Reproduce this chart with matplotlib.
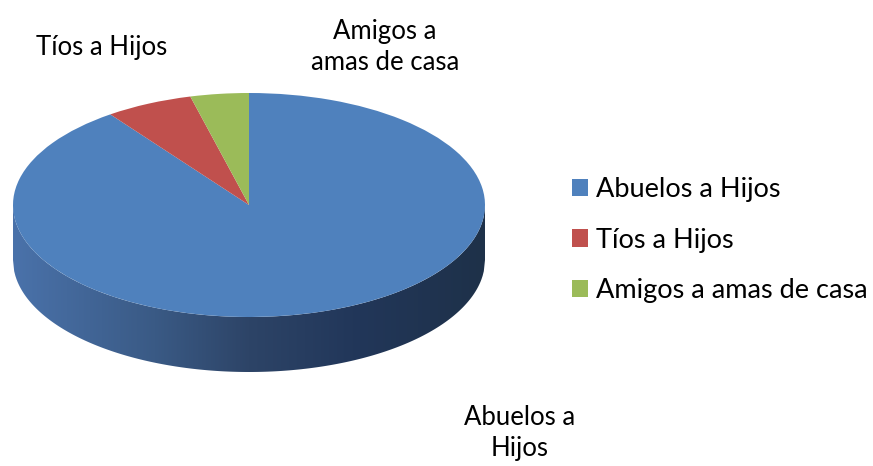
import numpy as np
import matplotlib
matplotlib.use("Agg")
import matplotlib.pyplot as plt
from matplotlib.colors import LinearSegmentedColormap
from matplotlib.patches import Patch

categories = ["Abuelos a Hijos", "Tíos a Hijos", "Amigos a amas de casa"]
values = [90, 6, 4]
colors = ["#4F81BD", "#C0504D", "#9BBB59"]
outer_labels = ["Abuelos a\nHijos", "Tíos a Hijos", "Amigos a\namas de casa"]

W, H = 873, 466
fig = plt.figure(figsize=(W / 100, H / 100), dpi=100)
ax = fig.add_axes([0, 0, 1, 1])

# pixel geometry of the elliptical pie
cx, cy, rx, ry, depth = 249, 205, 236, 112, 55

# side wall with horizontal gradient
d = depth / ry
xs = np.linspace(-1, 1, 400)
top = -np.sqrt(np.clip(1 - xs ** 2, 0, None))
poly = ax.fill_between(xs, top - d, top, color="none", lw=0)
cmap = LinearSegmentedColormap.from_list(
    "wall", [(0.0, "#4a72aa"), (0.3, "#3a5a85"), (0.5, "#2d4467"),
             (0.72, "#22375a"), (1.0, "#1e3149")])
grad = np.linspace(0, 1, 256).reshape(1, -1)
im = ax.imshow(grad, cmap=cmap, extent=[-1, 1, -1 - d, 0.1], aspect="auto",
               zorder=1, interpolation="bilinear")
im.set_clip_path(poly.get_paths()[0], transform=ax.transData)

wedges, _ = ax.pie(values, colors=colors, startangle=90, counterclock=False,
                   radius=1, center=(0, 0), wedgeprops=dict(linewidth=0, zorder=2),
                   frame=True)
ax.set_xlim(-cx / rx, (W - cx) / rx)
ax.set_ylim(-(H - cy) / ry, cy / ry)
ax.set_aspect("auto")
ax.axis("off")

font = "Lato"
fs = 18.5
label_pos = [(520, 433), (102, 47), (385, 47)]
for lab, (px, py) in zip(outer_labels, label_pos):
    fig.text(px / W, 1 - py / H, lab, ha="center", va="center", fontsize=fs,
             family=font, linespacing=1.3, color="#000000")

handles = [Patch(facecolor=c, edgecolor="none") for c in colors]
fig.legend(handles, categories, loc="center left",
           bbox_to_anchor=(572 / W, 1 - 240 / H), frameon=False,
           prop=dict(family=font, size=19.5), handlelength=0.6, handleheight=0.6,
           handletextpad=0.3, labelspacing=0.95, borderaxespad=0, borderpad=0)

fig.savefig("out.png", dpi=100)
